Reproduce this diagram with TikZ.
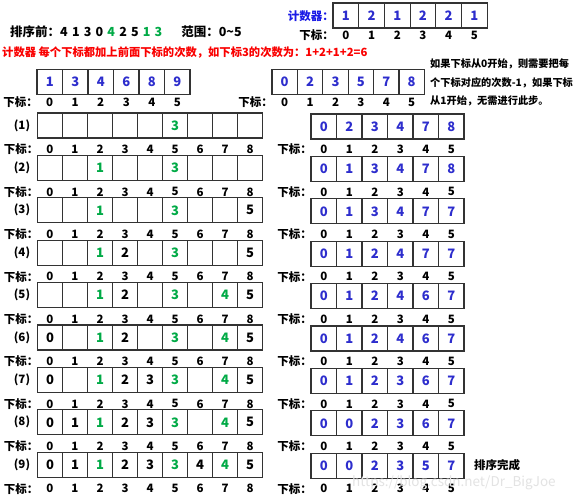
\documentclass[tikz,border=0pt]{standalone}
\usepackage{fontspec}
\setmainfont{Noto Sans CJK SC}
\definecolor{numblue}{RGB}{45,45,205}
\definecolor{numgreen}{RGB}{0,170,70}
\definecolor{lblblue}{RGB}{25,25,230}
\definecolor{notered}{RGB}{250,0,0}
\newcommand\gn[1]{\textcolor{numgreen}{#1}}
\newcommand\dg{\hspace{4.2pt}}
% #1 name, #2 x0, #3 y, #4 width, #5 colour, #6 list
\newcommand\cellrowat[6]{%
  \foreach \v [count=\i from 0] in {#6} {
    \node[cell, minimum width=#4pt, text=#5] (#1-\i) at ({#2+#4*(\i+0.5)}, {#3}) {\v};
  }}
% #1 name, #2 x0, #3 y, #4 width, #5 last index
\newcommand\idxrow[5]{%
  \node[idx, anchor=east] (#1-lbl) at ({#2+1}, {#3}) {下标：};
  \foreach \i in {0,...,#5} {
    \node[idx] (#1-\i) at ({#2+#4*(\i+0.5)}, {#3}) {\i};
  }}
\begin{document}
\begin{tikzpicture}[x=1pt,y=-1pt,
  cell/.style={draw=black!80, line width=1.2pt, minimum height=25pt, inner sep=0pt,
    font=\bfseries\fontsize{13}{13}\selectfont},
  idx/.style={inner sep=0pt, font=\bfseries\fontsize{11.5}{11.5}\selectfont},
  txt/.style={inner sep=0pt, anchor=west, font=\bfseries\fontsize{11.5}{11.5}\selectfont},
  lab/.style={inner sep=0pt, font=\bfseries\fontsize{11.5}{11.5}\selectfont}]
\useasboundingbox[fill=white] (0,0) rectangle (580,500);

% title
\node[txt, font=\bfseries\fontsize{12.5}{12.5}\selectfont] (title) at (10,32)
  {排序前：4\dg 1\dg 3\dg 0\dg \gn{4}\dg 2\dg 5\dg \gn{1}\dg \gn{3}\hspace{19pt}范围：0\textasciitilde5};
\node[txt, text=notered, font=\bfseries\fontsize{11.3}{11.3}\selectfont] (rule) at (2,53)
  {计数器 每个下标都加上前面下标的次数，如下标3的次数为：1+2+1+2=6};

% counter
\node[lab, anchor=east, text=lblblue] (ctrlbl) at (334,16) {计数器：};
\cellrowat{C}{333}{15.5}{25.7}{numblue}{1,2,1,2,2,1}
\idxrow{CI}{333}{35}{25.7}{5}

% accumulated arrays
\cellrowat{A}{37}{82}{25.5}{numblue}{1,3,4,6,8,9}
\idxrow{AI}{37}{102}{25.5}{5}
\cellrowat{B}{272}{82}{25.4}{numblue}{0,2,3,5,7,8}
\idxrow{BI}{272}{102}{25.4}{5}

\node[txt, font=\bfseries\fontsize{10.2}{10.2}\selectfont] (n1) at (430,64) {如果下标从0开始，则需要把每};
\node[txt, font=\bfseries\fontsize{10.2}{10.2}\selectfont] (n2) at (430,83) {个下标对应的次数-1，如果下标};
\node[txt, font=\bfseries\fontsize{10.2}{10.2}\selectfont] (n3) at (430,101) {从1开始，无需进行此步。};

% step rows
\foreach \k in {1,...,9} {
  \pgfmathsetmacro\yc{125.5+42.4*(\k-1)}
  \node[lab] (P\k) at (22,\yc) {(\k)};
  \idxrow{LI\k}{37.5}{\yc+24}{25}{8}
  \idxrow{RI\k}{311}{\yc+24}{25.5}{5}
}

\cellrowat{L1}{37.5}{125.5+42.4*0}{25}{black}{{},{},{},{},{},\gn{3},{},{},{}}
\cellrowat{L2}{37.5}{125.5+42.4*1}{25}{black}{{},{},\gn{1},{},{},\gn{3},{},{},{}}
\cellrowat{L3}{37.5}{125.5+42.4*2}{25}{black}{{},{},\gn{1},{},{},\gn{3},{},{},5}
\cellrowat{L4}{37.5}{125.5+42.4*3}{25}{black}{{},{},\gn{1},2,{},\gn{3},{},{},5}
\cellrowat{L5}{37.5}{125.5+42.4*4}{25}{black}{{},{},\gn{1},2,{},\gn{3},{},\gn{4},5}
\cellrowat{L6}{37.5}{125.5+42.4*5}{25}{black}{0,{},\gn{1},2,{},\gn{3},{},\gn{4},5}
\cellrowat{L7}{37.5}{125.5+42.4*6}{25}{black}{0,{},\gn{1},2,3,\gn{3},{},\gn{4},5}
\cellrowat{L8}{37.5}{125.5+42.4*7}{25}{black}{0,1,\gn{1},2,3,\gn{3},{},\gn{4},5}
\cellrowat{L9}{37.5}{125.5+42.4*8}{25}{black}{0,1,\gn{1},2,3,\gn{3},4,\gn{4},5}

\cellrowat{R1}{311}{126.5+42.4*0}{25.5}{numblue}{0,2,3,4,7,8}
\cellrowat{R2}{311}{126.5+42.4*1}{25.5}{numblue}{0,1,3,4,7,8}
\cellrowat{R3}{311}{126.5+42.4*2}{25.5}{numblue}{0,1,3,4,7,7}
\cellrowat{R4}{311}{126.5+42.4*3}{25.5}{numblue}{0,1,2,4,7,7}
\cellrowat{R5}{311}{126.5+42.4*4}{25.5}{numblue}{0,1,2,4,6,7}
\cellrowat{R6}{311}{126.5+42.4*5}{25.5}{numblue}{0,1,2,4,6,7}
\cellrowat{R7}{311}{126.5+42.4*6}{25.5}{numblue}{0,1,2,3,6,7}
\cellrowat{R8}{311}{126.5+42.4*7}{25.5}{numblue}{0,0,2,3,6,7}
\cellrowat{R9}{311}{126.5+42.4*8}{25.5}{numblue}{0,0,2,3,5,7}

\node[txt] (done) at (474,465) {排序完成};

% watermark
\node[txt, text=gray!22, font=\fontsize{13.5}{13.5}\selectfont] (wm) at (352,483) {https://blog.csdn.net/Dr\_BigJoe};
\end{tikzpicture}
\end{document}
